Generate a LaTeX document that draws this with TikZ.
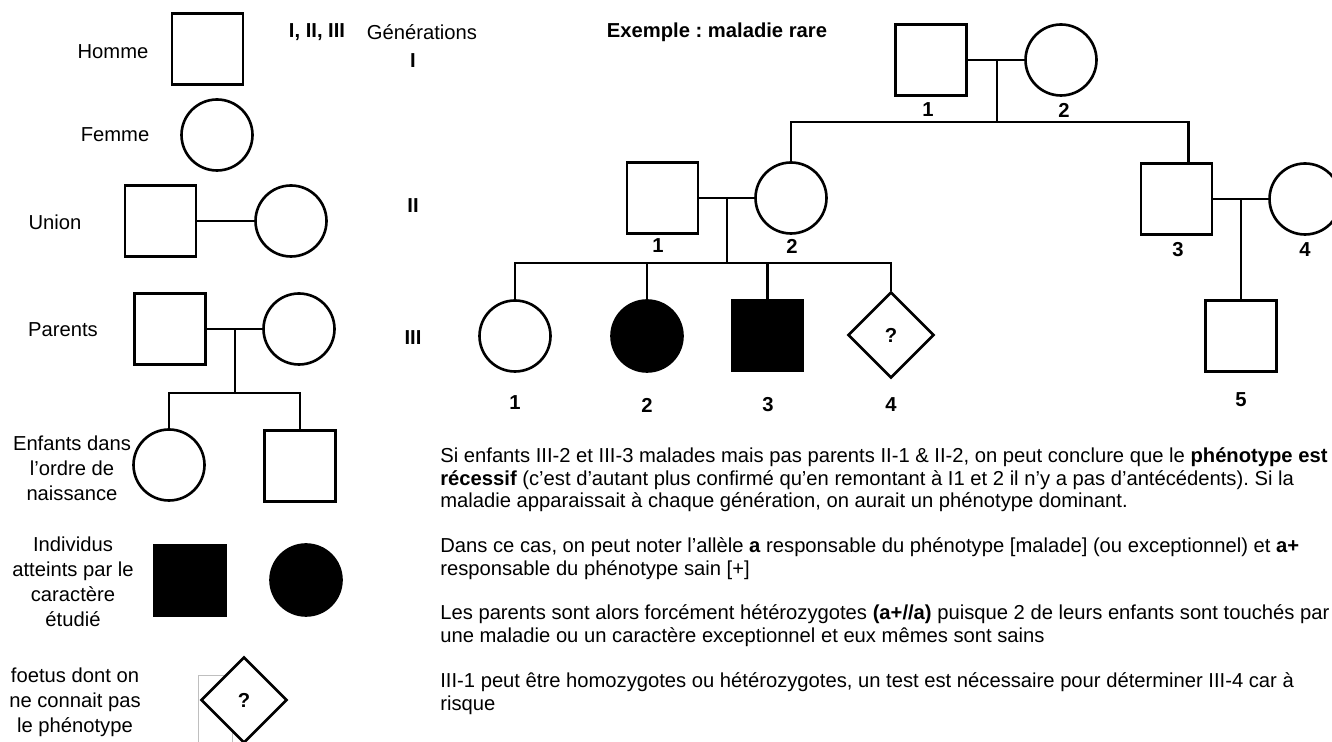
\documentclass[tikz,border=0pt]{standalone}
\usepackage{fontspec}
\setmainfont{Liberation Sans}
\usetikzlibrary{shapes.geometric}
\frenchspacing

\begin{document}
\begin{tikzpicture}[
        x=0.02cm, y=-0.02cm,
        every node/.style={font=\fontsize{11.5}{13}\selectfont},
        homme/.style={draw, line width=1.5pt, rectangle, minimum size=1.42cm, inner sep=0pt},
        femme/.style={draw, line width=1.5pt, circle, minimum size=1.42cm, inner sep=0pt},
        atteint/.style={fill=black},
        foetus/.style={draw, line width=1.5pt, diamond, minimum size=1.72cm, inner sep=0pt, fill=white,
            font=\bfseries\fontsize{11.5}{13}\selectfont},
        lien/.style={line width=1.5pt},
        num/.style={font=\bfseries\fontsize{11.5}{13}\selectfont},
        legende/.style={align=center, font=\fontsize{11.5}{14.2}\selectfont},
        texte/.style={align=left, anchor=north west, inner sep=0pt},
    ]
        \useasboundingbox (0,0) rectangle (1332,742);

        % legende
        \node[homme] (lh) at (207.5,49) {};
        \node[legende] (lh-t) at (113,52) {Homme};
        \node[femme] (lf) at (217,135) {};
        \node[legende] (lf-t) at (115,135) {Femme};

        \node[homme] (lu1) at (160.5,221) {};
        \node[femme] (lu2) at (291,221) {};
        \draw[lien] (lu1) -- (lu2);
        \node[legende] (lu-t) at (55,222) {Union};

        \node[homme] (lp1) at (170,329) {};
        \node[femme] (lp2) at (299,329) {};
        \draw[lien] (lp1) -- (lp2);
        \node[legende] (lp-t) at (63,330) {Parents};
        \coordinate (lp-u) at (235,329);
        \coordinate (lp-s) at (235,393);
        \node[femme] (le1) at (169,465) {};
        \node[homme] (le2) at (300,466) {};
        \draw[lien] (lp-u) -- (lp-s);
        \draw[lien] (le1.north) |- (lp-s) -| (le2.north);
        \node[legende] (le-t) at (72,468) {Enfants dans\\l'ordre de\\naissance};

        \node[homme, atteint] (la1) at (190,580.5) {};
        \node[femme, atteint] (la2) at (306,580) {};
        \node[legende] (la-t) at (73,582) {Individus\\atteints par le\\caractère\\étudié};

        \draw[gray!50, line width=0.4pt] (198,675) rectangle (232,760);
        \node[foetus] (lfo) at (244,700) {?};
        \node[legende] (lfo-t) at (75,702) {foetus dont on\\ne connait pas\\le phénotype};

        % generations
        \node[num] (gen) at (317,32) {I, II, III};
        \node (gen-t) at (422,32) {Générations};
        \node[num] (g1) at (413,61) {I};
        \node[num] (g2) at (413,206) {II};
        \node[num] (g3) at (413,338) {III};

        \node[num] (titre) at (717,32) {Exemple : maladie rare};

        % generation I
        \node[homme] (i1) at (931,60) {};
        \node[femme] (i2) at (1061,60) {};
        \draw[lien] (i1) -- (i2);
        \coordinate (i-u) at (997,60);
        \coordinate (i-s) at (997,122);
        \draw[lien] (i-u) -- (i-s);
        \node[num] (i1-n) at (928,110) {1};
        \node[num] (i2-n) at (1064,110) {2};

        % generation II
        \node[homme] (ii1) at (662.5,198) {};
        \node[femme] (ii2) at (791,198) {};
        \node[homme] (ii3) at (1176.5,199) {};
        \node[femme] (ii4) at (1305,199) {};
        \draw[lien] (ii2.north) |- (i-s) -| ([xshift=0.24cm]ii3.north);
        \draw[lien] (ii1) -- (ii2);
        \draw[lien] (ii3) -- (ii4);
        \node[num] (ii1-n) at (658,246) {1};
        \node[num] (ii2-n) at (792,246) {2};
        \node[num] (ii3-n) at (1178,250) {3};
        \node[num] (ii4-n) at (1305,250) {4};
        \coordinate (ii-u) at (727,198);
        \coordinate (ii-s) at (727,263);
        \coordinate (ii-v) at (1241,199);

        % generation III
        \node[femme] (iii1) at (515,336) {};
        \node[femme, atteint] (iii2) at (647,336) {};
        \node[homme, atteint] (iii3) at (767.5,335.5) {};
        \node[foetus] (iii4) at (891,335) {?};
        \node[homme] (iii5) at (1241,336) {};
        \draw[lien] (ii-u) -- (ii-s);
        \draw[lien] (iii1.north) |- (ii-s) -| (iii4.north);
        \draw[lien] (iii2.north) -- (iii2.north |- ii-s);
        \draw[lien] (iii3.north) -- (iii3.north |- ii-s);
        \draw[lien] (ii-v) -- (iii5.north);
        \node[num] (iii1-n) at (515,403) {1};
        \node[num] (iii2-n) at (647,405) {2};
        \node[num] (iii3-n) at (768,405) {3};
        \node[num] (iii4-n) at (891,405) {4};
        \node[num] (iii5-n) at (1241,400) {5};

        % explications
        \node[texte] (p1) at (440,447) {Si enfants III-2 et III-3 malades mais pas parents II-1 \& II-2, on peut conclure que le \textbf{phénotype est}\\
            \textbf{récessif} (c'est d'autant plus confirmé qu'en remontant à I1 et 2 il n'y a pas d'antécédents). Si la\\
            maladie apparaissait à chaque génération, on aurait un phénotype dominant.};
        \node[texte] (p2) at (440,537) {Dans ce cas, on peut noter l'allèle \textbf{a} responsable du phénotype [malade] (ou exceptionnel) et \textbf{a+}\\
            responsable du phénotype sain [+]};
        \node[texte] (p3) at (440,604) {Les parents sont alors forcément hétérozygotes \textbf{(a+//a)} puisque 2 de leurs enfants sont touchés par\\
            une maladie ou un caractère exceptionnel et eux mêmes sont sains};
        \node[texte] (p4) at (440,672) {III-1 peut être homozygotes ou hétérozygotes, un test est nécessaire pour déterminer III-4 car à\\
            risque};
\end{tikzpicture}
\end{document}
